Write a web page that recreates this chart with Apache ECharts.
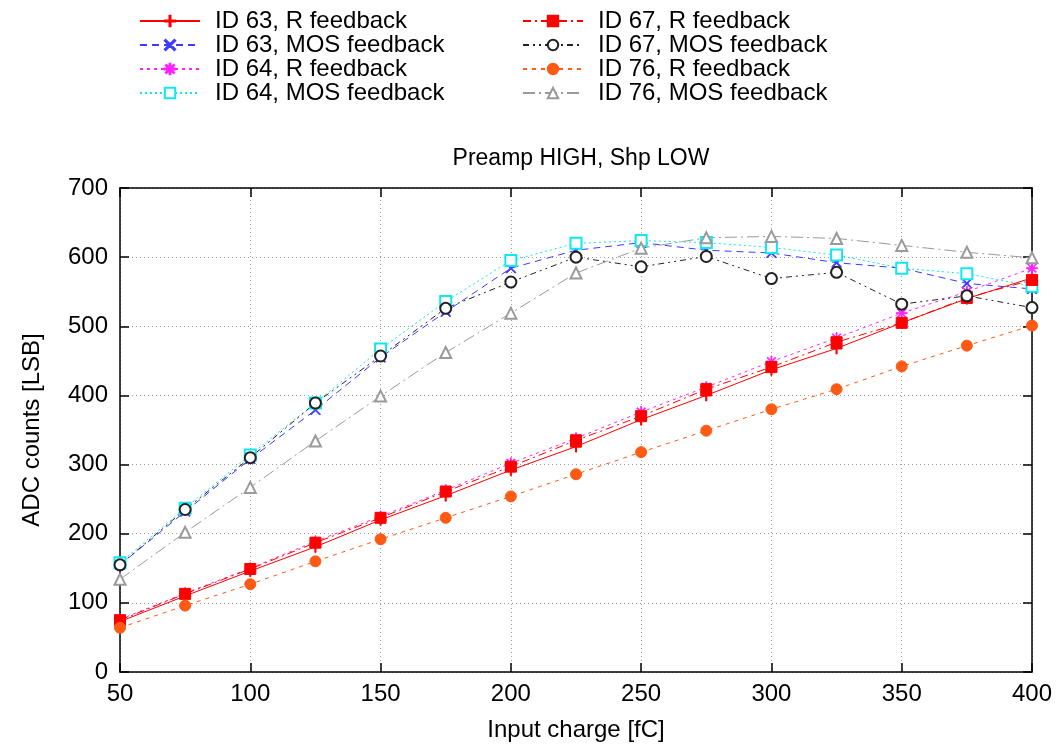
<!DOCTYPE html>
<html>
<head>
<meta charset="utf-8">
<script src="https://cdn.jsdelivr.net/npm/echarts@6/dist/echarts.min.js"></script>
<style>html,body{margin:0;padding:0;background:#fff}#c{width:1061px;height:749px}</style>
</head>
<body>
<div id="c"></div>
<script>
const charges = [50,75,100,125,150,175,200,225,250,275,300,325,350,375,400];
const id63R   = [73,110,146,181,220,255,292,326,365,400,437,468,505,540,570];
const id63MOS = [155,232,308,379,455,521,584,610,621,610,606,592,584,562,554];
const id64R   = [76,114,150,189,225,263,302,338,376,412,449,483,519,550,584];
const id64MOS = [158,237,314,389,467,536,595,620,624,621,614,603,584,576,558];
const id67R   = [75,113,149,187,223,261,297,335,370,409,441,477,505,541,567];
const id67MOS = [155,235,310,389,457,526,564,600,586,601,569,578,532,544,527];
const id76R   = [64,96,127,160,192,223,254,286,318,349,380,409,442,472,501];
const id76MOS = [134,202,267,334,399,462,519,577,613,628,630,627,617,607,599];
const xTicks = [50,100,150,200,250,300,350,400];
const yTicks = [0,100,200,300,400,500,600,700];

const FONT = "'Liberation Sans', Arial, sans-serif";
const PLUS = 'path://M0,4.5 H10 V5.5 H0 Z M4.5,0 H5.5 V10 H4.5 Z';
const CROSS = 'path://M0,0.8 L0.8,0 L10,9.2 L9.2,10 Z M10,0.8 L9.2,0 L0,9.2 L0.8,10 Z';
const STAR = 'path://M0,4.6 H10 V5.4 H0 Z M4.6,0 H5.4 V10 H4.6 Z M1,1.6 L1.6,1 L9,8.4 L8.4,9 Z M9,1.6 L8.4,1 L1,8.4 L1.6,9 Z';

function mk(name, data, color, dash, symbol, size, extra) {
  return Object.assign({
    name, type: 'line', data: charges.map((c, i) => [c, data[i]]),
    symbol, symbolSize: size,
    lineStyle: { color, width: 1, type: dash },
    itemStyle: { color, borderColor: color, borderWidth: 1 },
    emphasis: { disabled: true },
    animation: false, z: 3
  }, extra || {});
}

const series = [
  mk('ID 63, R feedback', id63R, '#ff0000', 'solid', PLUS, 11),
  mk('ID 63, MOS feedback', id63MOS, '#3c3cff', [7,5], CROSS, 10),
  mk('ID 64, R feedback', id64R, '#ff22ff', [3,4], STAR, 11),
  mk('ID 64, MOS feedback', id64MOS, '#10e8f0', [2,3], 'emptyRect', 11, {itemStyle:{color:'#10e8f0',borderColor:'#10e8f0',borderWidth:1}}),
  mk('ID 67, R feedback', id67R, '#ff0000', [8,4,2,4], 'rect', 11),
  mk('ID 67, MOS feedback', id67MOS, '#222222', [6,4,2,4,2,4], 'emptyCircle', 11, {itemStyle:{color:'#222',borderColor:'#222',borderWidth:1}}),
  mk('ID 76, R feedback', id76R, '#ff5a14', [4,5], 'circle', 11),
  mk('ID 76, MOS feedback', id76MOS, '#9a9a9a', [12,4,2,4], 'emptyTriangle', 11, {itemStyle:{color:'#9a9a9a',borderColor:'#9a9a9a',borderWidth:1}})
];

const legendCommon = {
  orient: 'vertical', itemWidth: 60, itemHeight: 13, itemGap: 0,
  textStyle: { fontFamily: FONT, fontSize: 24, color: '#000', padding: [0,0,0,10], lineHeight: 24 },
  selectedMode: false
};

const tickAxisBase = {
  min: yTicks[0], max: yTicks[yTicks.length-1], interval: 100
};

const chart = echarts.init(document.getElementById('c'), null, { renderer: 'canvas' });
chart.setOption({
  backgroundColor: '#fff',
  animation: false,
  title: {
    text: 'Preamp HIGH, Shp LOW', left: 576, top: 142, textAlign: 'center',
    textStyle: { fontFamily: FONT, fontSize: 23, fontWeight: 'normal', color: '#000' }
  },
  legend: [
    Object.assign({}, legendCommon, { left: 134, top: 4, data: series.slice(0,4).map(s => s.name) }),
    Object.assign({}, legendCommon, { left: 517, top: 4, data: series.slice(4).map(s => s.name) })
  ],
  grid: { left: 120, right: 29, top: 188, bottom: 77, containLabel: false },
  xAxis: [
    { type: 'value', min: xTicks[0], max: xTicks[xTicks.length-1], interval: 50, position: 'bottom',
      name: 'Input charge [fC]', nameLocation: 'middle', nameGap: 46,
      nameTextStyle: { fontFamily: FONT, fontSize: 24, color: '#000' },
      axisLine: { show: true, onZero: false, lineStyle: { color: '#000', width: 1.5 } },
      axisTick: { show: true, inside: true, length: 9, lineStyle: { color: '#000', width: 1.5 } },
      axisLabel: { fontFamily: FONT, fontSize: 24, color: '#000', margin: 10 },
      splitLine: { show: true, lineStyle: { color: '#a0a0a0', type: [1,3], width: 1 } } },
    { type: 'value', min: xTicks[0], max: xTicks[xTicks.length-1], interval: 50, position: 'top',
      axisLine: { show: true, onZero: false, lineStyle: { color: '#000', width: 1.5 } },
      axisTick: { show: true, inside: true, length: 9, lineStyle: { color: '#000', width: 1.5 } },
      axisLabel: { show: false }, splitLine: { show: false } }
  ],
  yAxis: [
    Object.assign({}, tickAxisBase, { type: 'value', position: 'left',
      name: 'ADC counts [LSB]', nameLocation: 'middle', nameGap: 76,
      nameTextStyle: { fontFamily: FONT, fontSize: 24, color: '#000' },
      axisLine: { show: true, onZero: false, lineStyle: { color: '#000', width: 1.5 } },
      axisTick: { show: true, inside: true, length: 9, lineStyle: { color: '#000', width: 1.5 } },
      axisLabel: { fontFamily: FONT, fontSize: 24, color: '#000', margin: 12 },
      splitLine: { show: true, lineStyle: { color: '#a0a0a0', type: [1,3], width: 1 } } }),
    Object.assign({}, tickAxisBase, { type: 'value', position: 'right',
      axisLine: { show: true, onZero: false, lineStyle: { color: '#000', width: 1.5 } },
      axisTick: { show: true, inside: true, length: 9, lineStyle: { color: '#000', width: 1.5 } },
      axisLabel: { show: false }, splitLine: { show: false } })
  ],
  series
});
</script>
</body>
</html>
